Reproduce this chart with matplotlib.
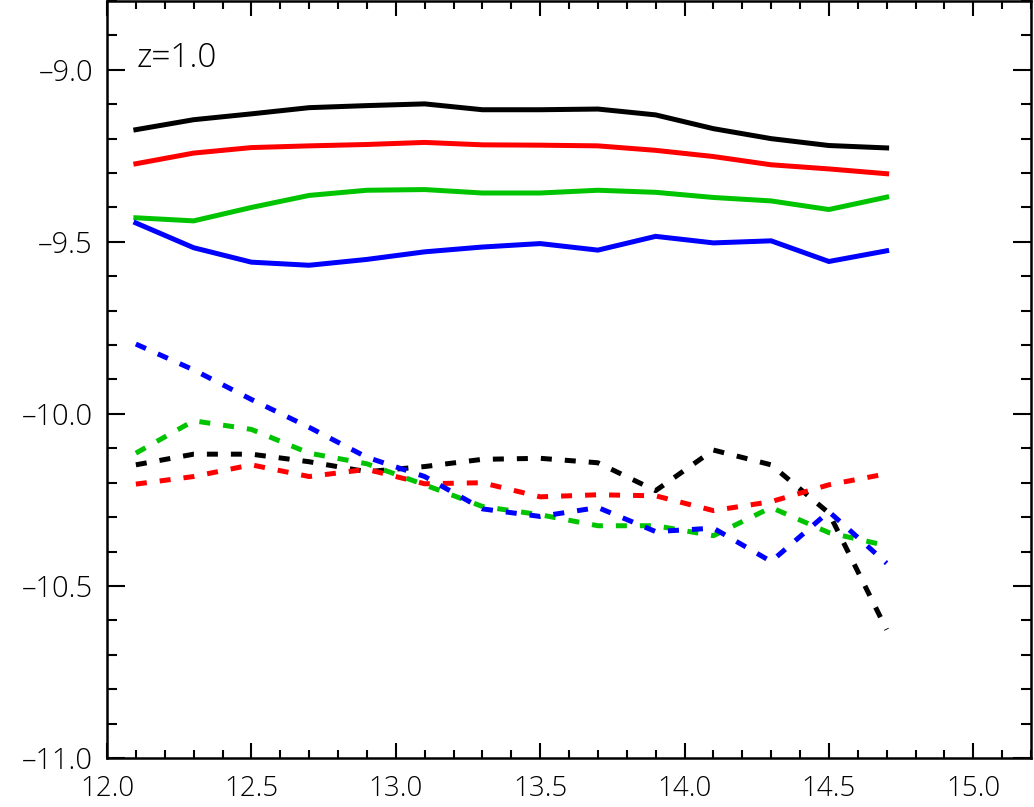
import matplotlib
matplotlib.use('Agg')
import matplotlib.pyplot as plt
from matplotlib.ticker import MultipleLocator, FuncFormatter

# halo mass bins (log M)
mass = [12.1, 12.3, 12.5, 12.7, 12.9, 13.1, 13.3, 13.5, 13.7, 13.9, 14.1, 14.3, 14.5, 14.7]

# solid curves
black_solid = [-9.174, -9.145, -9.128, -9.110, -9.104, -9.099, -9.116, -9.116, -9.114, -9.131, -9.171, -9.200, -9.220, -9.227]
red_solid = [-9.273, -9.242, -9.226, -9.221, -9.217, -9.211, -9.218, -9.219, -9.221, -9.234, -9.252, -9.276, -9.288, -9.302]
green_solid = [-9.430, -9.439, -9.400, -9.365, -9.350, -9.348, -9.358, -9.358, -9.350, -9.356, -9.371, -9.381, -9.406, -9.370]
blue_solid = [-9.445, -9.517, -9.559, -9.568, -9.551, -9.529, -9.515, -9.505, -9.524, -9.484, -9.503, -9.497, -9.557, -9.526]

# dashed curves
black_dash = [-10.148, -10.117, -10.117, -10.139, -10.168, -10.153, -10.132, -10.129, -10.142, -10.223, -10.105, -10.148, -10.288, -10.627]
red_dash = [-10.204, -10.182, -10.148, -10.182, -10.161, -10.203, -10.200, -10.241, -10.235, -10.238, -10.281, -10.255, -10.206, -10.174]
green_dash = [-10.114, -10.020, -10.045, -10.114, -10.145, -10.206, -10.269, -10.293, -10.325, -10.325, -10.354, -10.272, -10.345, -10.383]
blue_dash = [-9.797, -9.872, -9.958, -10.039, -10.126, -10.182, -10.276, -10.298, -10.272, -10.342, -10.332, -10.429, -10.284, -10.434]

GREEN = '#00c400'

plt.rcParams['font.family'] = ['Open Sans', 'DejaVu Sans']
plt.rcParams['font.weight'] = 'light'

fig = plt.figure(figsize=(10.34, 8.07), dpi=100)
ax = fig.add_axes([107 / 1034, 49 / 807, 924 / 1034, 757 / 807])

lw = 3.6
dash = (0, (2.2, 2.6))
for ys, c in [(black_solid, 'black'), (red_solid, 'red'), (green_solid, GREEN), (blue_solid, 'blue')]:
    ax.plot(mass, ys, color=c, lw=lw, solid_joinstyle='miter')
for ys, c in [(black_dash, 'black'), (red_dash, 'red'), (green_dash, GREEN), (blue_dash, 'blue')]:
    ax.plot(mass, ys, color=c, lw=lw, linestyle=dash)

ax.set_xlim(12.0, 15.2)
ax.set_ylim(-11.0, -8.8)

fmt = FuncFormatter(lambda v, p: ('%.1f' % v).replace('-', '\u2013'))
ax.xaxis.set_major_locator(MultipleLocator(0.5))
ax.xaxis.set_minor_locator(MultipleLocator(0.1))
ax.yaxis.set_major_locator(MultipleLocator(0.5))
ax.yaxis.set_minor_locator(MultipleLocator(0.1))
ax.xaxis.set_major_formatter(fmt)
ax.yaxis.set_major_formatter(fmt)

ax.tick_params(axis='both', which='both', direction='in', top=True, right=True, width=1.5)
ax.tick_params(axis='x', which='major', length=10.8, pad=12, labelsize=20)
ax.tick_params(axis='x', which='minor', length=5.5)
ax.tick_params(axis='y', which='major', length=13, pad=10, labelsize=21)
ax.tick_params(axis='y', which='minor', length=7)
for lab in ax.get_xticklabels() + ax.get_yticklabels():
    lab.set_fontweight('light')
for sp in ax.spines.values():
    sp.set_linewidth(1.8)

ax.text(0.032, 0.925, 'z=1.0', transform=ax.transAxes, fontsize=24, va='center', ha='left',
        fontweight='light')

fig.savefig('out.png', dpi=100)
